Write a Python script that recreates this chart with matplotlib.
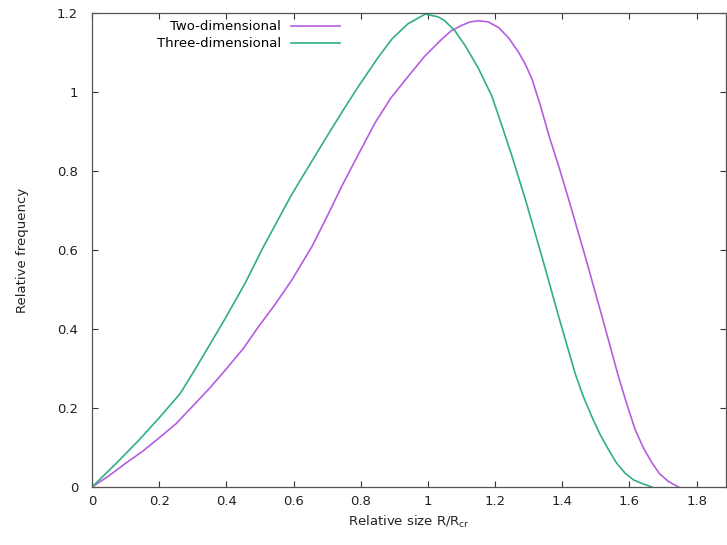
import matplotlib
matplotlib.use("Agg")
import matplotlib.pyplot as plt
from matplotlib.ticker import FuncFormatter

# Curves
x_2d = [0, 0.05, 0.1, 0.15, 0.198, 0.25, 0.298, 0.35, 0.397, 0.45, 0.496, 0.545,
        0.595, 0.655, 0.70, 0.744, 0.795, 0.843, 0.89, 0.943, 0.99, 1.042, 1.07,
        1.100, 1.125, 1.151, 1.18, 1.210, 1.24, 1.270, 1.29, 1.310, 1.335, 1.36,
        1.39, 1.419, 1.468, 1.518, 1.567, 1.592, 1.617, 1.642, 1.667, 1.69,
        1.716, 1.746]
y_2d = [0, 0.028, 0.06, 0.09, 0.123, 0.16, 0.203, 0.25, 0.296, 0.35, 0.406, 0.462,
        0.524, 0.609, 0.685, 0.762, 0.845, 0.922, 0.985, 1.041, 1.09, 1.134, 1.155,
        1.168, 1.177, 1.180, 1.177, 1.163, 1.137, 1.100, 1.07, 1.032, 0.965, 0.89,
        0.81, 0.728, 0.584, 0.432, 0.280, 0.21, 0.145, 0.098, 0.061, 0.033,
        0.014, 0]

x_3d = [0, 0.07, 0.139, 0.2, 0.263, 0.305, 0.347, 0.397, 0.456, 0.511, 0.595,
        0.694, 0.745, 0.794, 0.85, 0.893, 0.94, 0.992, 1.03, 1.05, 1.08, 1.111,
        1.15, 1.190, 1.22, 1.250, 1.290, 1.339, 1.389, 1.438, 1.463, 1.488, 1.513,
        1.538, 1.562, 1.587, 1.612, 1.637, 1.667]
y_3d = [0, 0.058, 0.118, 0.175, 0.237, 0.295, 0.355, 0.427, 0.516, 0.609, 0.741,
        0.880, 0.95, 1.015, 1.085, 1.134, 1.172, 1.197, 1.19, 1.18, 1.155, 1.117,
        1.06, 0.990, 0.915, 0.838, 0.728, 0.584, 0.432, 0.288, 0.228, 0.178, 0.132,
        0.094, 0.06, 0.035, 0.018, 0.009, 0]

x_ticks = [0, 0.2, 0.4, 0.6, 0.8, 1, 1.2, 1.4, 1.6, 1.8]
y_ticks = [0, 0.2, 0.4, 0.6, 0.8, 1, 1.2]

plt.rcParams['font.family'] = ['DejaVu Sans']
plt.rcParams['font.size'] = 9.5

fig = plt.figure(figsize=(7.27, 5.45), dpi=100)
ax = fig.add_axes([0.1265, 0.1064, 0.872, 0.870])

ax.plot(x_2d, y_2d, color='#b45ee0', lw=1.2, label='Two-dimensional')
ax.plot(x_3d, y_3d, color='#30ae8c', lw=1.2, label='Three-dimensional')

ax.set_xlim(0, 1.887)
ax.set_ylim(0, 1.2)
ax.set_xticks(x_ticks)
ax.set_yticks(y_ticks)
fmt = FuncFormatter(lambda v, p: '%g' % v)
ax.xaxis.set_major_formatter(fmt)
ax.yaxis.set_major_formatter(fmt)
ax.tick_params(direction='in', length=4, width=0.8, color='#333333',
               top=True, right=True, labelcolor='#222222')
ax.tick_params(axis='x', pad=6)
ax.tick_params(axis='y', pad=10)
for s in ax.spines.values():
    s.set_color('#555555')
    s.set_linewidth(0.9)

ax.set_xlabel('Relative size R/R$_\\mathregular{cr}$', color='#222222', labelpad=4)
ax.set_ylabel('Relative frequency', color='#222222', labelpad=20)

leg = ax.legend(loc='upper right', bbox_to_anchor=(0.395, 0.99), frameon=False,
                markerfirst=False, handlelength=3.7, handletextpad=0.75,
                labelspacing=0.3, borderaxespad=0, borderpad=0.2)
# right-align the entries like gnuplot does
for col in leg._legend_handle_box.get_children():
    col.align = 'right'

fig.savefig('out.png', dpi=100)
